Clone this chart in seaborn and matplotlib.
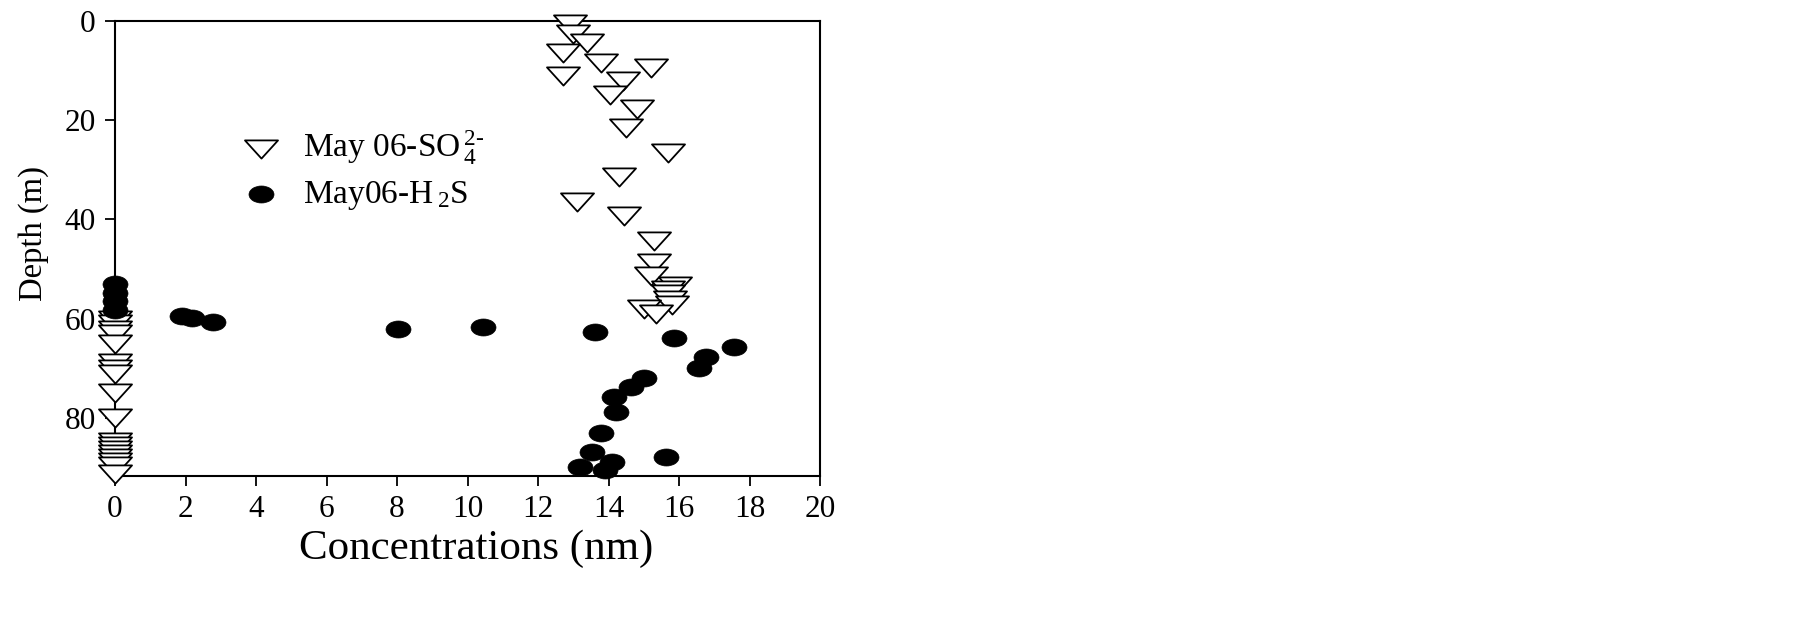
import numpy as np
import pandas as pd
import matplotlib
matplotlib.use("Agg")
import matplotlib.pyplot as plt
from matplotlib.path import Path
from matplotlib.markers import MarkerStyle
import seaborn as sns

# ---- data ----
so4_conc = [12.9, 13.0, 13.4, 12.7, 13.8, 15.2, 12.7, 14.4, 14.05, 14.8, 14.5, 15.7,
            14.3, 13.1, 14.45, 15.3, 15.3, 15.2, 15.9, 15.7, 15.7, 15.75, 15.8, 15.0, 15.35,
            0, 0, 0, 0, 0, 0, 0, 0, 0, 0, 0, 0, 0, 0, 0, 0, 0, 0]
so4_depth = [0.6, 2.6, 4.5, 6.5, 8.5, 9.5, 11.0, 12.0, 14.9, 17.7, 21.6, 26.6,
             31.5, 36.4, 39.4, 44.4, 48.7, 51.3, 53.4, 54.2, 55.0, 56.3, 57.2, 58.1, 59.1,
             60.2, 61.1, 62.3, 63.1, 65.1, 69.0, 70.2, 71.2, 74.9, 80.1, 84.9, 85.7,
             86.5, 87.3, 88.1, 88.8, 89.7, 91.3]

h2s_conc = [0, 0, 0, 0, 1.89, 2.19, 2.77, 8.02, 10.45, 13.62, 15.86, 17.56, 16.77,
            16.58, 15.02, 14.63, 14.15, 14.2, 13.8, 13.52, 15.63, 14.09, 13.19, 13.9]
h2s_depth = [53.0, 54.8, 56.5, 58.2, 59.5, 59.8, 60.6, 62.1, 61.6, 62.6, 63.8, 65.7, 67.7,
             69.9, 71.9, 73.8, 75.8, 78.9, 83.0, 86.8, 87.8, 88.8, 89.9, 90.4]

so4_label = r"May 06-SO$\,_{4}^{2\text{-}}$"
h2s_label = r"May06-H$\,_{2}$S"
x_ticks = [0, 2, 4, 6, 8, 10, 12, 14, 16, 18, 20]
y_ticks = [0, 20, 40, 60, 80]
x_title = "Concentrations (nm)"
y_title = "Depth (m)"

# ---- style ----
sns.set_theme(style="ticks")
plt.rcParams['font.family'] = ['Liberation Serif', 'DejaVu Serif']
plt.rcParams['mathtext.fontset'] = 'custom'
plt.rcParams['mathtext.rm'] = 'Liberation Serif'
plt.rcParams['mathtext.it'] = 'Liberation Serif:italic'
plt.rcParams['mathtext.bf'] = 'Liberation Serif:bold'

fig = plt.figure(figsize=(18.05, 6.26), dpi=100)
fig.patch.set_facecolor("white")
ax = fig.add_axes([115 / 1805, 1 - 476 / 626, (820 - 115) / 1805, (476 - 21) / 626])
ax.set_facecolor("white")

# custom markers: flattened down-triangle, ellipse
tri_path = Path([(-1, 0.55), (1, 0.55), (0, -0.55), (-1, 0.55)],
                [Path.MOVETO, Path.LINETO, Path.LINETO, Path.CLOSEPOLY])
circ = Path.unit_circle()
ell_path = Path(circ.vertices * np.array([1.0, 0.68]), circ.codes)

sns.scatterplot(x=so4_conc, y=so4_depth, ax=ax, marker=MarkerStyle(tri_path),
                s=566, color="white", edgecolor="black", linewidth=1.3,
                label=so4_label, clip_on=False, zorder=3)
sns.scatterplot(x=h2s_conc, y=h2s_depth, ax=ax, marker=MarkerStyle(ell_path),
                s=324, color="black", edgecolor="black", linewidth=0.5,
                label=h2s_label, clip_on=False, zorder=4)

ax.set_xlim(0, 20)
ax.set_ylim(91.7, 0)
ax.set_xticks(x_ticks)
ax.set_yticks(y_ticks)
ax.set_xticklabels([str(t) for t in x_ticks])
ax.set_yticklabels([str(t) for t in y_ticks])

for side in ["left", "bottom", "top", "right"]:
    ax.spines[side].set_visible(True)
    ax.spines[side].set_color("black")
    ax.spines[side].set_linewidth(1.5)

ax.tick_params(axis="both", direction="out", length=7, width=1.3, colors="black",
               labelsize=22.5, pad=7, top=False, right=False)

ax.set_xlabel(x_title, fontsize=31, color="black")
ax.set_ylabel(y_title, fontsize=23.5, color="black")
ax.xaxis.set_label_coords(0.512, -0.118)
ax.yaxis.set_label_coords(-0.093, 0.534)
ax.xaxis.label.set_va("top")

leg = ax.legend(loc="upper left", bbox_to_anchor=(0.184, 0.764), frameon=False,
                fontsize=24, handlelength=1.0, handletextpad=0.74,
                borderpad=0, borderaxespad=0, labelspacing=0.35, scatterpoints=1)
for t in leg.get_texts():
    t.set_color("black")

fig.savefig("out.png", dpi=100, facecolor="white")
